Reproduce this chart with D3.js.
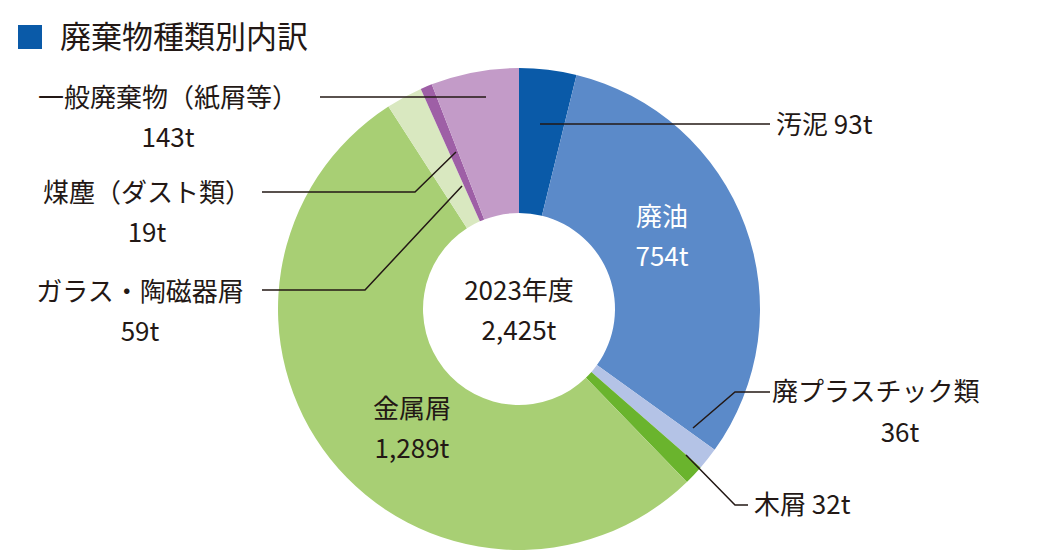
<!DOCTYPE html><html><head><meta charset="utf-8"><script src="https://cdn.jsdelivr.net/npm/d3@7"></script>
<style>body{margin:0;background:#fff}text{font-family:"Noto Sans CJK JP","Noto Sans",sans-serif;fill:#231815}</style></head><body>
<svg id="c" width="1055" height="553"></svg>
<script>
const categories=["汚泥","廃油","廃プラスチック類","木屑","金属屑","ガラス・陶磁器屑","煤塵（ダスト類）","一般廃棄物（紙屑等）"];
const values=[93,754,36,32,1289,59,19,143];
const colors=["#0a5aa8","#5b8ac9","#b4c3e6","#6ab42d","#a8cf74","#d9e8c0","#9e5fa6","#c39bc8"];
const svg=d3.select("#c");
svg.append("rect").attr("x",18).attr("y",25).attr("width",24).attr("height",24).attr("fill","#0a5aa8");
svg.append("text").attr("x",60).attr("y",48).attr("font-size",31).text("廃棄物種類別内訳");
const cx=519,cy=309;
const pie=d3.pie().sort(null)(values);
const arc=d3.arc().innerRadius(96).outerRadius(241);
const g=svg.append("g").attr("transform",`translate(${cx},${cy})`);
g.selectAll("path").data(pie).join("path").attr("d",arc).attr("fill",(d,i)=>colors[i]);
const lines=[
 [[540,124],[770,124]],
 [[693,428],[735,392],[770,392]],
 [[686,455],[735,505],[748,505]],
 [[456,152],[415,192],[262,192]],
 [[462,186],[365,290],[262,290]],
 [[486,97],[320,97]]];
lines.forEach(p=>svg.append("path").attr("d",d3.line()(p)).attr("fill","none").attr("stroke","#231815").attr("stroke-width",1.5));
const fs=26;
const t=(x,y,s,a,fill)=>svg.append("text").attr("x",x).attr("y",y).attr("font-size",fs).attr("text-anchor",a||"start").style("fill",fill||"#231815").text(s);
t(776,134,"汚泥 93t");
t(662,226,"廃油","middle","#fff");t(662,266,"754t","middle","#fff");
t(772,401,"廃プラスチック類");t(900,442,"36t","middle");
t(754,514,"木屑 32t");
t(168,107,"一般廃棄物（紙屑等）","middle");t(168,147,"143t","middle");
t(147,202,"煤塵（ダスト類）","middle");t(147,242,"19t","middle");
t(140,301,"ガラス・陶磁器屑","middle");t(140,341,"59t","middle");
t(412,418,"金属屑","middle");t(412,458,"1,289t","middle");
t(519,300,"2023年度","middle");t(519,340,"2,425t","middle");
</script></body></html>
